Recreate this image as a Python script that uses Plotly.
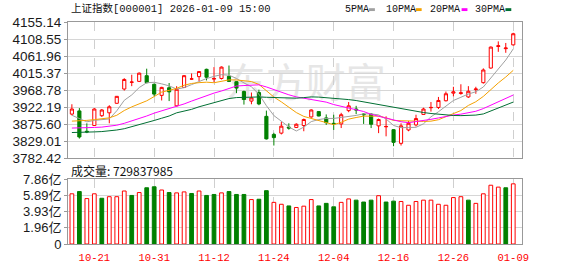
import plotly.graph_objects as go

# ---------------- data ----------------
dates = ["10-16", "10-17", "10-20", "10-21", "10-22", "10-23", "10-24", "10-27", "10-28", "10-29", "10-30", "10-31",
         "11-03", "11-04", "11-05", "11-06", "11-07", "11-10", "11-11", "11-12", "11-13", "11-14", "11-17", "11-18",
         "11-19", "11-20", "11-21", "11-24", "11-25", "11-26", "11-27", "11-28",
         "12-01", "12-02", "12-03", "12-04", "12-05", "12-08", "12-09", "12-10", "12-11", "12-12", "12-15", "12-16",
         "12-17", "12-18", "12-19", "12-22", "12-23", "12-24", "12-25", "12-26", "12-29", "12-30", "12-31",
         "01-05", "01-06", "01-07", "01-08", "01-09"]
label_dates = ["10-21", "10-31", "11-12", "11-24", "12-04", "12-16", "12-26", "01-09"]

open_ = [3903.2, 3911.9, 3856.3, 3871.9, 3898.8, 3906.7, 3932.7, 3971.8, 3990.1, 3992.7,
         4008.3, 3984.8, 3954.4, 3975.3, 3925.8, 3976.2, 3998.8, 4005.7, 4025.7, 3998.8,
         4000.6, 4006.6, 3991.8, 3964.9, 3938.8, 3962.2, 3897.1, 3847.6, 3851.1, 3867.6,
         3866.7, 3871.9, 3895.4, 3910.1, 3892.8, 3878.0, 3876.3, 3912.7, 3917.1, 3903.2,
         3903.2, 3871.0, 3868.4, 3860.6, 3823.2, 3859.8, 3873.6, 3902.3, 3920.6, 3921.4,
         3939.7, 3960.5, 3959.6, 3950.1, 3970.1, 3989.2, 4029.2, 4088.2, 4082.2, 4092.6]
high = [3930.1, 3919.7, 3878.0, 3919.7, 3917.1, 3927.5, 3952.7, 4001.4, 4010.9, 4017.0,
        4027.4, 3986.6, 3977.9, 3988.3, 3979.6, 4010.0, 4014.4, 4020.5, 4027.4, 4031.8,
        4033.5, 4036.1, 3993.5, 3967.5, 3962.2, 3970.1, 3912.7, 3852.0, 3882.3, 3878.0,
        3878.0, 3891.0, 3916.2, 3911.0, 3902.3, 3901.5, 3906.7, 3936.2, 3925.8, 3905.8,
        3905.8, 3891.0, 3897.1, 3862.3, 3878.0, 3884.1, 3901.5, 3920.6, 3936.2, 3950.1,
        3964.9, 3977.9, 3984.8, 3979.6, 3977.9, 4028.3, 4088.2, 4102.1, 4097.8, 4125.6]
low = [3899.7, 3836.3, 3851.1, 3871.0, 3895.4, 3878.0, 3931.9, 3967.5, 3979.6, 3990.9,
       3987.5, 3951.8, 3940.5, 3938.8, 3924.0, 3974.4, 3997.0, 3993.5, 3995.3, 3990.9,
       3997.9, 3990.9, 3960.5, 3929.2, 3930.1, 3927.5, 3833.7, 3817.2, 3847.6, 3860.6,
       3865.0, 3856.3, 3893.6, 3897.1, 3873.6, 3859.8, 3865.0, 3908.4, 3903.2, 3876.3,
       3865.0, 3851.1, 3842.4, 3815.4, 3817.2, 3856.3, 3869.3, 3901.5, 3910.1, 3917.1,
       3937.9, 3951.8, 3956.2, 3947.5, 3958.8, 3986.6, 4027.4, 4073.5, 4070.9, 4090.8]
close = [3917.1, 3840.6, 3854.5, 3917.1, 3914.5, 3923.2, 3951.8, 3997.9, 3990.9, 4015.2,
         3989.2, 3957.9, 3976.2, 3964.0, 3971.0, 4008.3, 3999.6, 4019.6, 4004.0, 4000.6,
         4031.8, 3992.7, 3974.4, 3943.1, 3947.5, 3931.0, 3835.4, 3838.9, 3870.2, 3865.0,
         3875.4, 3888.4, 3914.5, 3898.0, 3879.7, 3876.3, 3901.5, 3925.8, 3914.5, 3901.5,
         3875.4, 3888.4, 3869.3, 3825.9, 3871.0, 3878.0, 3891.0, 3917.1, 3921.4, 3940.5,
         3958.8, 3964.0, 3961.4, 3965.7, 3971.8, 4023.9, 4086.5, 4090.0, 4083.9, 4123.0]

ma5 = [3900.0, 3890.0, 3882.0, 3886.0, 3888.8, 3890.0, 3912.2, 3940.9, 3955.7, 3975.8,
       3989.0, 3990.2, 3985.9, 3980.5, 3971.7, 3975.5, 3983.8, 3992.5, 4000.5, 4006.4,
       4011.1, 4009.7, 4000.7, 3988.5, 3977.9, 3957.7, 3926.3, 3899.2, 3884.6, 3868.1,
       3857.0, 3867.6, 3882.7, 3888.3, 3891.2, 3891.4, 3894.0, 3896.3, 3899.6, 3903.9,
       3903.7, 3901.1, 3889.8, 3872.1, 3866.0, 3866.5, 3867.0, 3876.6, 3895.7, 3909.6,
       3925.8, 3940.4, 3949.2, 3958.1, 3964.3, 3977.4, 4001.9, 4027.6, 4051.2, 4081.5]
ma10 = [3884.0, 3884.0, 3886.0, 3888.0, 3890.0, 3893.0, 3900.0, 3913.0, 3923.0, 3932.3,
        3939.5, 3951.2, 3963.4, 3968.1, 3973.7, 3982.2, 3987.0, 3989.2, 3990.5, 3989.0,
        3993.3, 3996.8, 3996.6, 3994.5, 3992.2, 3984.4, 3968.0, 3949.9, 3936.6, 3923.0,
        3907.4, 3896.9, 3890.9, 3886.4, 3879.7, 3874.2, 3880.8, 3889.5, 3893.9, 3897.6,
        3897.6, 3897.6, 3893.0, 3885.8, 3885.0, 3885.1, 3884.1, 3883.2, 3883.9, 3887.8,
        3896.1, 3903.7, 3912.9, 3926.9, 3937.0, 3951.6, 3971.1, 3988.4, 4004.7, 4022.9]
ma20 = [3865.0, 3865.0, 3865.8, 3866.7, 3867.6, 3869.3, 3872.8, 3878.0, 3884.1, 3891.0,
        3898.0, 3905.8, 3911.9, 3917.1, 3924.0, 3931.0, 3938.8, 3946.6, 3953.6, 3960.7,
        3966.4, 3974.0, 3980.0, 3981.3, 3982.9, 3983.3, 3977.5, 3969.6, 3963.5, 3956.0,
        3950.3, 3946.9, 3943.8, 3940.5, 3935.9, 3929.3, 3924.4, 3919.7, 3915.2, 3910.3,
        3902.5, 3897.2, 3892.0, 3886.1, 3882.3, 3879.7, 3882.4, 3886.3, 3888.9, 3892.7,
        3896.9, 3900.6, 3903.0, 3906.4, 3911.0, 3918.3, 3927.6, 3935.8, 3944.3, 3955.4]
ma30 = [3852.8, 3852.8, 3853.7, 3854.5, 3855.4, 3857.1, 3859.7, 3863.2, 3868.4, 3873.6,
        3879.7, 3885.8, 3891.9, 3898.0, 3906.7, 3911.0, 3916.2, 3923.2, 3929.2, 3935.3,
        3941.4, 3945.7, 3948.4, 3949.2, 3950.1, 3950.1, 3949.2, 3948.4, 3948.4, 3948.1,
        3946.7, 3948.3, 3950.3, 3949.7, 3948.5, 3947.0, 3945.3, 3942.9, 3940.3, 3936.5,
        3932.7, 3930.4, 3926.9, 3922.3, 3918.9, 3914.6, 3911.0, 3907.5, 3904.8, 3902.8,
        3900.4, 3899.4, 3899.0, 3899.7, 3900.5, 3903.6, 3912.0, 3920.4, 3927.5, 3936.1]

# volume in 亿 (1e8) ; vol_up = closed above previous close (red)
volume = [6.09, 6.36, 5.51, 6.09, 5.55, 5.74, 5.74, 6.43, 5.89, 6.24,
          6.82, 6.94, 6.55, 6.24, 6.20, 6.32, 6.13, 6.43, 5.89, 6.01,
          6.20, 6.36, 6.01, 6.01, 5.39, 5.43, 6.47, 5.05, 4.82, 4.62,
          4.43, 4.59, 5.39, 4.62, 4.93, 4.51, 5.05, 5.47, 5.32, 5.09,
          5.32, 5.86, 5.09, 5.20, 5.16, 4.70, 5.16, 5.32, 5.32, 4.82,
          4.70, 5.63, 5.74, 5.32, 4.93, 6.09, 7.13, 6.90, 6.82, 7.298]
vol_up = [1, 0, 1, 1, 0, 1, 1, 1, 0, 1,
          0, 0, 1, 0, 1, 1, 0, 1, 0, 0,
          1, 0, 0, 0, 1, 0, 0, 1, 1, 0,
          1, 1, 1, 0, 0, 0, 1, 1, 0, 0,
          0, 1, 0, 0, 1, 1, 1, 1, 1, 1,
          1, 1, 1, 0, 1, 1, 1, 1, 0, 1]

price_ticks = [3782.42, 3829.01, 3875.60, 3922.19, 3968.78, 4015.37, 4061.96, 4108.55, 4155.14]
vol_ticks = [0, 1.965, 3.93, 5.895, 7.86]
vol_tick_text = ["0", "1.96亿", "3.93亿", "5.89亿", "7.86亿"]

title_text = "上证指数[000001] 2026-01-09 15:00"
vol_text = "成交量: 729837985"
ma_names = ["5PMA", "10PMA", "20PMA", "30PMA"]
ma_colors = ["#a0a0a0", "#f4a100", "#ff00ff", "#006f33"]

# ---------------- layout geometry ----------------
W, H = 578, 276
L, R, T, B = 56, 56, 22, 21
PW, PH = W - L - R, H - T - B


def px(x):
    return (x - L) / PW


def py(y):
    return (H - B - y) / PH


RED = "#ff0000"
GREEN = "#008000"
GRID = "#d6d6d6"
BORDER = "#999999"

fig = go.Figure()

fig.add_trace(go.Candlestick(
    x=dates, open=open_, high=high, low=low, close=close,
    increasing=dict(line=dict(color=RED, width=1), fillcolor="white"),
    decreasing=dict(line=dict(color=GREEN, width=1), fillcolor=GREEN),
    whiskerwidth=0, hoverinfo="skip", showlegend=False,
    xaxis="x", yaxis="y"))

for name, vals, col in zip(ma_names, [ma5, ma10, ma20, ma30], ma_colors):
    fig.add_trace(go.Scatter(x=dates, y=vals, mode="lines", name=name,
                             line=dict(color=col, width=1), hoverinfo="skip",
                             showlegend=False, xaxis="x", yaxis="y"))

fig.add_trace(go.Bar(
    x=dates, y=volume, width=0.5,
    marker=dict(color=["white" if u else GREEN for u in vol_up],
                line=dict(color=[RED if u else GREEN for u in vol_up], width=1)),
    hoverinfo="skip", showlegend=False, xaxis="x2", yaxis="y2"))

xrange = [-0.52, 60.17]
axis_common = dict(showline=True, mirror=True, linecolor=BORDER, linewidth=1, zeroline=False, fixedrange=True)

fig.update_layout(
    width=W, height=H,
    margin=dict(l=L, r=R, t=T, b=B, pad=0),
    paper_bgcolor="white", plot_bgcolor="white",
    boxgap=0.4,
    xaxis=dict(domain=[0, 1], anchor="y", type="category", range=xrange,
               tickvals=label_dates, showticklabels=False, ticks="",
               showgrid=True, gridcolor="#cfcfcf", griddash="dash", gridwidth=1,
               rangeslider=dict(visible=False), **axis_common),
    yaxis=dict(domain=[py(165), 1], anchor="x", range=[price_ticks[0], price_ticks[-1]],
               tickvals=price_ticks, ticktext=["%.2f" % v for v in price_ticks],
               ticks="outside", ticklen=3, tickcolor=BORDER,
               tickfont=dict(family="Liberation Sans, Arial", size=13.5, color="#1a1a1a"),
               showgrid=True, gridcolor=GRID, gridwidth=1, **axis_common),
    xaxis2=dict(domain=[0, 1], anchor="y2", type="category", range=xrange, matches="x",
                tickvals=label_dates, ticktext=label_dates,
                ticks="outside", ticklen=3, tickcolor="rgba(0,0,0,0)",
                tickfont=dict(family="Liberation Mono, monospace", size=10.5, color=RED),
                showgrid=True, gridcolor="#cfcfcf", griddash="dash", gridwidth=1, **axis_common),
    yaxis2=dict(domain=[0, py(187)], anchor="x2", range=[0, vol_ticks[-1]],
                tickvals=vol_ticks, ticktext=vol_tick_text,
                ticks="outside", ticklen=3, tickcolor=BORDER,
                tickfont=dict(family="Liberation Sans, Noto Sans CJK SC", size=13, color="#1a1a1a"),
                showgrid=True, gridcolor=GRID, gridwidth=1, **axis_common),
)

annotations = [
    dict(text=title_text, x=px(57), y=py(8), xref="paper", yref="paper",
         xanchor="left", yanchor="middle", showarrow=False,
         font=dict(family="Liberation Mono, Noto Sans CJK SC", size=10.5, color="#111111")),
    dict(text=vol_text, x=px(57), y=py(177.5), xref="paper", yref="paper",
         xanchor="left", yanchor="middle", showarrow=False,
         font=dict(family="Noto Sans CJK SC, Liberation Sans", size=12, color="#111111")),
]
shapes = []
legend_x = [338, 380, 426, 472]
square_x = [365, 413, 460, 505]
for name, col, lx, sx in zip(ma_names, ma_colors, legend_x, square_x):
    annotations.append(dict(text=name, x=px(lx), y=py(9), xref="paper", yref="paper",
                            xanchor="left", yanchor="middle", showarrow=False,
                            font=dict(family="Liberation Mono, monospace", size=10, color="#111111")))
    shapes.append(dict(type="rect", xref="paper", yref="paper",
                       x0=px(sx), x1=px(sx + 6), y0=py(10.5), y1=py(7.5),
                       fillcolor=col, line=dict(width=0)))

# faint watermark
shapes.append(dict(type="rect", xref="paper", yref="paper", layer="below",
                   x0=px(215), x1=px(385), y0=py(110), y1=py(68),
                   fillcolor="rgba(0,0,0,0)", line=dict(width=0),
                   label=dict(text="东方财富", textposition="middle center",
                              font=dict(family="Noto Sans CJK SC", size=40, color="#e6e6e6"))))

fig.update_layout(annotations=annotations, shapes=shapes)

fig.write_html("out.html")
